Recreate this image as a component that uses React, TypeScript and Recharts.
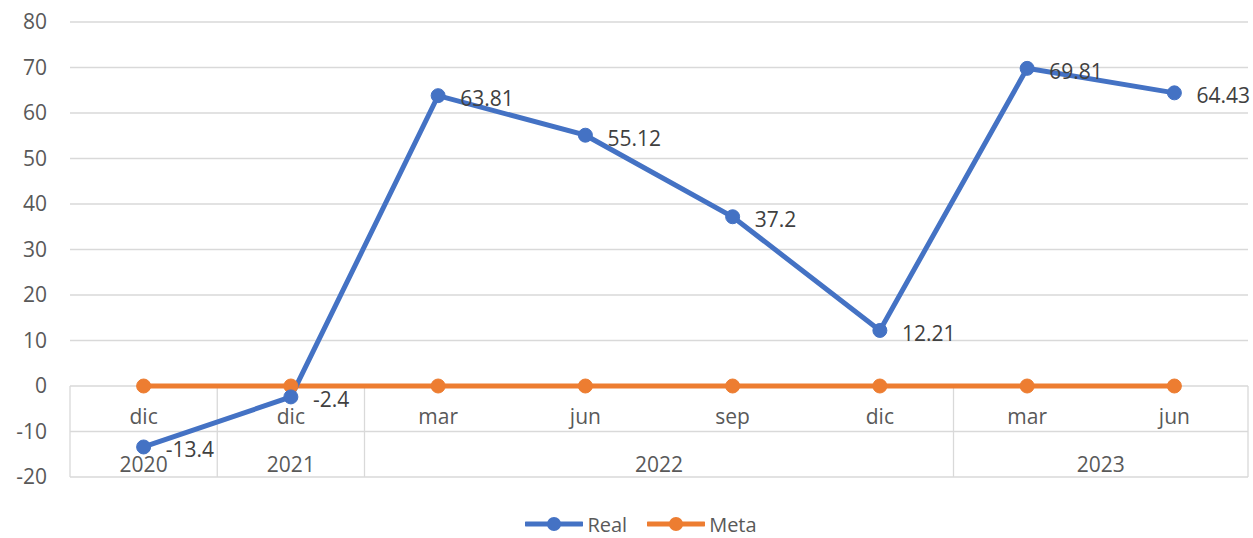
import React from 'react';
import {
  LineChart,
  Line,
  XAxis,
  YAxis,
  CartesianGrid,
  Legend,
  LabelList,
  ReferenceLine,
  ReferenceDot,
} from 'recharts';

const months = ['dic', 'dic', 'mar', 'jun', 'sep', 'dic', 'mar', 'jun'];
const realValues = [-13.4, -2.4, 63.81, 55.12, 37.2, 12.21, 69.81, 64.43];
const metaValues = [0, 0, 0, 0, 0, 0, 0, 0];
const years = ['2020', '2021', '2022', '2023'];
const yearStart = [0, 1, 2, 6];
const yearEnd = [0, 1, 5, 7];
const yTicks = [-20, -10, 0, 10, 20, 30, 40, 50, 60, 70, 80];

const COLORS = {
  real: '#4472C4',
  meta: '#ED7D31',
  grid: '#D9D9D9',
  axisText: '#595959',
  labelText: '#404040',
};

const FONT = '"Open Sans", "Noto Sans", sans-serif';

const data = months.map((m, i) => ({
  x: i,
  month: m,
  real: realValues[i],
  meta: metaValues[i],
}));

// borders of the year groups, in category units
const separators = [yearStart[0] - 0.5, ...yearEnd.map((e) => e + 0.5)];

const MonthTick = (props: any) => {
  const { x, y, payload } = props;
  const idx = payload.value as number;
  return (
    <text
      x={x}
      y={y - 68}
      textAnchor="middle"
      dy="0.355em"
      fill={COLORS.axisText}
      fontSize={21}
      fontFamily={FONT}
    >
      {months[idx]}
    </text>
  );
};

const PointLabel = (props: any) => {
  const { x, y, value } = props;
  return (
    <text
      x={x + 22}
      y={y + 3}
      dy="0.355em"
      fill={COLORS.labelText}
      fontSize={21}
      fontFamily={FONT}
    >
      {value}
    </text>
  );
};

const LegendContent = () => {
  const items = [
    { name: 'Real', color: COLORS.real },
    { name: 'Meta', color: COLORS.meta },
  ];
  return (
    <div
      style={{
        height: 40,
        display: 'flex',
        justifyContent: 'center',
        alignItems: 'flex-end',
        paddingLeft: 34,
        fontFamily: FONT,
        fontSize: 20,
        color: COLORS.axisText,
      }}
    >
      {items.map((it, i) => (
        <div
          key={it.name}
          style={{
            display: 'flex',
            alignItems: 'center',
            height: 28,
            marginLeft: i === 0 ? 0 : 20,
          }}
        >
          <svg width={58} height={16} style={{ marginRight: 4 }}>
            <line x1={1} y1={8} x2={57} y2={8} stroke={it.color} strokeWidth={5} strokeLinecap="round" />
            <circle cx={29} cy={8} r={7} fill={it.color} />
          </svg>
          <span>{it.name}</span>
        </div>
      ))}
    </div>
  );
};

export default function App() {
  return (
    <div style={{ position: 'absolute', left: 0, top: 0, width: 1253, height: 538, background: '#fff' }}>
      <LineChart
        width={1253}
        height={538}
        data={data}
        margin={{ top: 22, right: 5, left: 0, bottom: 0 }}
        style={{ fontFamily: FONT }}
      >
        <CartesianGrid vertical={false} stroke={COLORS.grid} strokeWidth={1.3} />
        <XAxis
          dataKey="x"
          type="number"
          domain={[-0.5, 7.5]}
          ticks={months.map((_, i) => i)}
          interval={0}
          height={21}
          axisLine={false}
          tickLine={false}
          tick={<MonthTick />}
        />
        <YAxis
          domain={[-20, 80]}
          ticks={yTicks}
          width={70}
          axisLine={false}
          tickLine={false}
          tickSize={0}
          tickMargin={23}
          tick={{ fill: COLORS.axisText, fontSize: 21, fontFamily: FONT }}
          interval={0}
        />
        {separators.map((s) => (
          <ReferenceLine
            key={`sep-${s}`}
            segment={[
              { x: s, y: 0 },
              { x: s, y: -20 },
            ]}
            stroke={COLORS.grid}
            strokeWidth={1.3}
            ifOverflow="visible"
          />
        ))}
        {years.map((yr, i) => (
          <ReferenceDot
            key={yr}
            x={(yearStart[i] + yearEnd[i]) / 2}
            y={-20}
            r={0}
            fill="none"
            stroke="none"
            ifOverflow="visible"
            label={{
              value: yr,
              position: 'top',
              offset: 5,
              fill: COLORS.axisText,
              fontSize: 21,
              fontFamily: FONT,
            }}
          />
        ))}
        <Legend verticalAlign="bottom" content={<LegendContent />} />
        <Line
          type="linear"
          dataKey="meta"
          name="Meta"
          stroke={COLORS.meta}
          strokeWidth={5}
          dot={{ r: 7, fill: COLORS.meta, stroke: COLORS.meta, strokeWidth: 1 }}
          isAnimationActive={false}
        />
        <Line
          type="linear"
          dataKey="real"
          name="Real"
          stroke={COLORS.real}
          strokeWidth={5}
          dot={{ r: 7, fill: COLORS.real, stroke: COLORS.real, strokeWidth: 1 }}
          isAnimationActive={false}
        >
          <LabelList dataKey="real" content={<PointLabel />} />
        </Line>
      </LineChart>
    </div>
  );
}
